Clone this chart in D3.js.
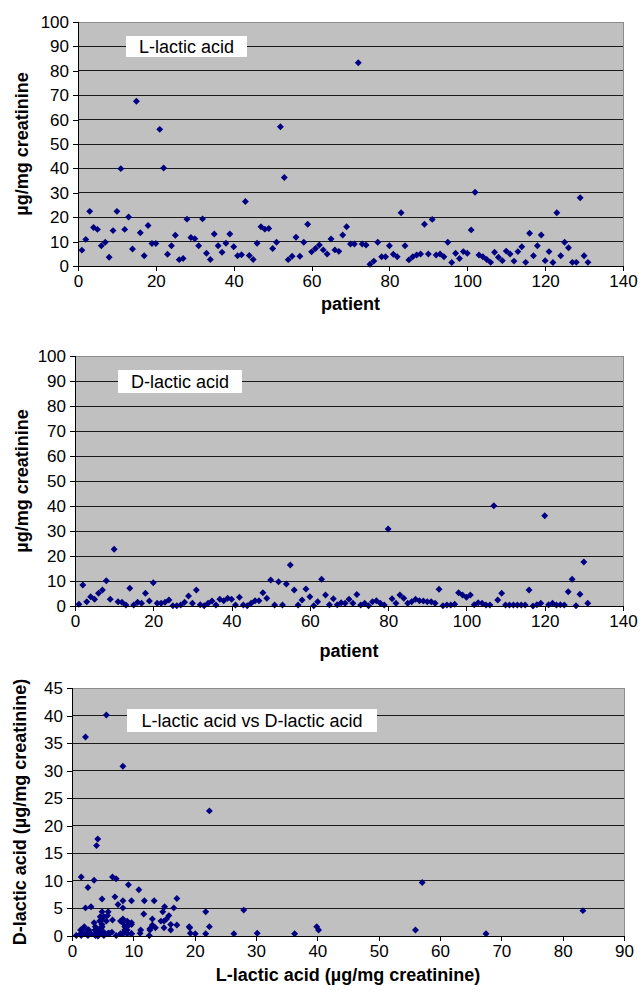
<!DOCTYPE html>
<html><head><meta charset="utf-8">
<script src="https://cdn.jsdelivr.net/npm/d3@7"></script>
<style>
html,body{margin:0;padding:0;background:#fff;}
svg text{font-family:Arial,"Liberation Sans",sans-serif;}
</style></head>
<body><svg id="c" width="642" height="993"></svg>
<script>
// L-lactic acid per patient (µg/mg creatinine), patients 1..131
const lLactic = [6.5,10.9,22.4,15.8,15,8.3,9.7,3.6,14.5,22.4,
39.9,15,20.1,7,67.5,13.6,4.2,16.6,9.2,9.2,
56,40.2,4.8,8.3,12.6,2.6,3.1,19.2,11.7,11.2,
8.3,19.3,5.2,2.7,13.1,8.3,5.6,9.3,13.1,7.9,
4.2,4.6,26.4,4.3,2.7,9.3,16.1,15.1,15.4,7.2,
9.7,57.1,36.3,2.6,4,11.8,4,9.7,17.1,5.8,
7.2,8.6,6.6,4.9,11.1,6.6,6,12.7,16.1,9,
9,83.3,9,8.6,0.7,2,9.7,3.8,3.8,8.3,
4.8,3.8,21.8,8.3,2.5,3.8,4.5,4.9,17.1,4.9,
19.1,4.5,4.9,3.8,9.7,1.4,5.2,3.1,5.9,5.2,
14.8,30.2,4.5,3.8,2.7,1.5,5.6,3.6,2.2,6.1,
4.9,2,5.9,7.9,1.5,13.4,4.2,8.3,12.7,2.2,
5.9,1.4,21.8,4.2,9.7,7.5,1.5,1.5,28,4.2,
1.5];
// D-lactic acid per patient (µg/mg creatinine), patients 1..131
const dLactic = [0.7,8.4,1.7,3.7,2.7,5.1,6.4,10.1,2.7,22.7,
1.7,1.5,0.4,7.1,0.4,1.5,1.1,5.1,2,9.3,
1.1,1.1,1.5,2.4,0.1,0.1,0.4,1.5,4,1.1,
6.4,0.5,0.1,1.1,2,0.4,2.7,2.1,3.1,2.7,
0.4,3.5,0.4,0.1,1.1,2.1,2.1,5.3,3.1,10.4,
0.4,9.7,0.4,8.8,16.4,6.4,0.4,2.4,6.8,3.7,
0.1,1.7,10.7,4.4,0.5,2.9,0.5,1.3,1.1,2.7,
1.1,4.6,0.4,1.1,0.1,1.7,2.1,1.1,0.4,30.8,
2.9,1.1,4.4,3.1,1.1,1.7,2.7,2.1,2,1.7,
1.7,1.1,6.7,0.1,0.4,0.4,0.7,5.3,4.4,3.5,
4.4,0.5,1.3,1.1,0.4,0.4,40.1,2.4,5.1,0.4,
0.4,0.4,0.4,0.4,0.4,6.4,0,0.5,1.1,36.1,
0.5,1.1,0.4,0.5,0.4,5.7,10.7,0.1,4.7,17.6,
1.1];
const patients = lLactic.map((_, i) => i + 1);
const patientTicks = [0,20,40,60,80,100,120,140];
const pctTicks = [0,10,20,30,40,50,60,70,80,90,100];
const scatterXTicks = [0,10,20,30,40,50,60,70,80,90];
const scatterYTicks = [0,5,10,15,20,25,30,35,40,45];
const panelLabels = ["L-lactic acid","D-lactic acid","L-lactic acid vs D-lactic acid"];
const axisTitles = {
  unit: "µg/mg creatinine", patient: "patient",
  sx: "L-lactic acid (µg/mg creatinine)", sy: "D-lactic acid (µg/mg creatinine)"
};

const svg = d3.select("#c");
const marker = d3.symbol().type(d3.symbolSquare).size(24)();

function panel(o){
  const g = svg.append("g");
  const x = d3.scaleLinear().domain(o.xDomain).range([o.left,o.right]);
  const y = d3.scaleLinear().domain(o.yDomain).range([o.bottom,o.top]);
  g.append("rect").attr("x",o.left).attr("y",o.top).attr("width",o.right-o.left)
   .attr("height",o.bottom-o.top).attr("fill","#c0c0c0");
  // grid
  g.append("g").selectAll("line").data(o.yTicks.filter(t=>t>0)).join("line")
   .attr("x1",o.left).attr("x2",o.right).attr("y1",d=>y(d)).attr("y2",d=>y(d))
   .attr("stroke","#1a1a1a").attr("stroke-width",1).attr("shape-rendering","crispEdges");
  // border top/right
  g.append("path").attr("d",`M${o.left},${o.top}H${o.right}V${o.bottom}`)
   .attr("fill","none").attr("stroke","#8c8c8c").attr("shape-rendering","crispEdges");
  // label box
  const b = o.box;
  g.append("rect").attr("x",b.x).attr("y",b.y).attr("width",b.w).attr("height",b.h).attr("fill","#fff");
  g.append("text").attr("x",b.x+b.w/2).attr("y",b.y+b.h/2).attr("dy","0.36em")
   .attr("text-anchor","middle").attr("font-size",18).attr("fill","#000").text(o.label);
  // points
  g.append("g").selectAll("path").data(o.points).join("path")
   .attr("d",marker).attr("fill","#000080")
   .attr("transform",d=>`translate(${x(d[0])},${y(d[1])}) rotate(45)`);
  // axes
  const ax = g.append("g").attr("transform",`translate(0,${o.bottom})`)
   .call(d3.axisBottom(x).tickValues(o.xTicks).tickSize(5).tickPadding(4));
  const ay = g.append("g").attr("transform",`translate(${o.left},0)`)
   .call(d3.axisLeft(y).tickValues(o.yTicks).tickSize(5).tickPadding(4));
  [ax,ay].forEach(a=>{
    a.select(".domain").attr("stroke","#000").attr("shape-rendering","crispEdges");
    a.selectAll(".tick line").attr("stroke","#000").attr("shape-rendering","crispEdges");
    a.selectAll("text").attr("font-size",17).attr("fill","#000")
     .attr("font-family","Arial, 'Liberation Sans', sans-serif");
  });
  ax.select(".domain").attr("d",`M${o.left},0H${o.right}`);
  ay.select(".domain").attr("d",`M0,${o.bottom}V${o.top}`);
  // titles
  g.append("text").attr("x",(o.left+o.right)/2).attr("y",o.xTitleY).attr("dy","0.36em")
   .attr("text-anchor","middle").attr("font-size",18).attr("font-weight","bold").text(o.xTitle);
  g.append("text").attr("transform",`translate(${o.yTitleX},${(o.top+o.bottom)/2}) rotate(-90)`)
   .attr("dy","0.36em").attr("text-anchor","middle").attr("font-size",18)
   .attr("font-weight","bold").text(o.yTitle);
}

panel({left:78,right:623,top:22,bottom:266,xDomain:[0,140],yDomain:[0,100],
  xTicks:patientTicks,yTicks:pctTicks,points:patients.map((p,i)=>[p,lLactic[i]]),
  box:{x:126,y:36,w:121,h:21},label:panelLabels[0],
  xTitle:axisTitles.patient,xTitleY:304,yTitle:axisTitles.unit,yTitleX:22});
panel({left:75,right:623,top:356,bottom:606,xDomain:[0,140],yDomain:[0,100],
  xTicks:patientTicks,yTicks:pctTicks,points:patients.map((p,i)=>[p,dLactic[i]]),
  box:{x:118,y:370,w:124,h:23},label:panelLabels[1],
  xTitle:axisTitles.patient,xTitleY:651,yTitle:axisTitles.unit,yTitleX:22});
panel({left:72,right:624,top:688,bottom:936,xDomain:[0,90],yDomain:[0,45],
  xTicks:scatterXTicks,yTicks:scatterYTicks,points:patients.map((p,i)=>[lLactic[i],dLactic[i]]),
  box:{x:127,y:709,w:250,h:23},label:panelLabels[2],
  xTitle:axisTitles.sx,xTitleY:975,yTitle:axisTitles.sy,yTitleX:20});
</script></body></html>
